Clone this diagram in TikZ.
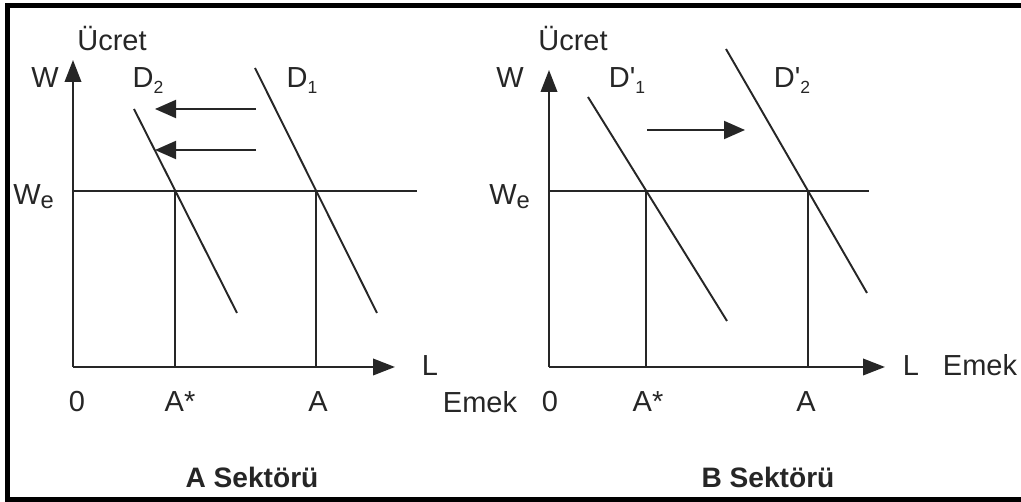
\documentclass[tikz,border=0pt]{standalone}
\usepackage{fontspec}
\setmainfont{Liberation Sans}
\usetikzlibrary{arrows.meta}
\tikzset{
  axisline/.style  ={-{Triangle[length=4.4mm, width=3.3mm]}, line width=1.2pt, draw=black!85},
  demand/.style    ={line width=1.1pt, draw=black!85},
  dropline/.style  ={line width=1.1pt, draw=black!85},
  shiftarrow/.style={-{Triangle[length=4.2mm, width=3.6mm]}, line width=1.1pt, draw=black!85},
  lbl/.style       ={font=\fontsize{16.5}{19}\selectfont, text=black!85, inner sep=0pt, anchor=base},
  sector/.style    ={font=\fontsize{16}{19}\selectfont\bfseries, text=black!85, inner sep=0pt, anchor=base},
  framebox/.style  ={line width=1mm, draw=black},
}
\newcommand{\wlow}{W\raisebox{-0.25ex}{\fontsize{13.5}{15}\selectfont e}}
\newcommand{\dsub}[1]{\raisebox{-0.35ex}{\fontsize{10}{12}\selectfont #1}}

\begin{document}
\begin{tikzpicture}[x=0.2mm, y=-0.2mm]
  \useasboundingbox (0,0) rectangle (1021,502);
  \draw[framebox] (1021,6) -- (7.5,6) -- (7.5,499.5) -- (1021,499.5);

  % A Sektoru
  \coordinate (oA)   at (73,367);
  \coordinate (yA)   at (73,60);
  \coordinate (xA)   at (395,367);
  \coordinate (weA)  at (73,191);
  \coordinate (weAe) at (417,191);
  \coordinate (d2a)  at (134,109);
  \coordinate (d2b)  at (237,313);
  \coordinate (d1a)  at (255,68);
  \coordinate (d1b)  at (377,313);
  \coordinate (pA2)  at (intersection of d2a--d2b and weA--weAe);
  \coordinate (pA1)  at (intersection of d1a--d1b and weA--weAe);
  \coordinate (fA2)  at (pA2 |- oA);
  \coordinate (fA1)  at (pA1 |- oA);
  \coordinate (s1a)  at (256,109);
  \coordinate (s1b)  at (155,109);
  \coordinate (s2a)  at (256,150);
  \coordinate (s2b)  at (155,150);

  \draw[axisline] (oA) -- (yA);
  \draw[axisline] (oA) -- (xA);
  \draw[dropline] (weA) -- (weAe);
  \draw[dropline] (pA2) -- (fA2);
  \draw[dropline] (pA1) -- (fA1);
  \draw[demand]   (d2a) -- (d2b);
  \draw[demand]   (d1a) -- (d1b);
  \draw[shiftarrow] (s1a) -- (s1b);
  \draw[shiftarrow] (s2a) -- (s2b);

  \node[lbl] (ucA)  at (112,51)  {Ücret};
  \node[lbl] (wA)   at (45,88)   {W};
  \node[lbl] (D2)   at (148,88)  {D\dsub{2}};
  \node[lbl] (D1)   at (302,88)  {D\dsub{1}};
  \node[lbl, anchor=base west] (weLA) at (13,205) {\wlow};
  \node[lbl] (zeroA) at (77,412)  {0};
  \node[lbl] (astA)  at (180,412) {A*};
  \node[lbl] (aA)    at (318,412) {A};
  \node[lbl] (lA)    at (430,376) {L};
  \node[lbl] (emA)   at (480,413) {Emek};
  \node[sector] (secA) at (252,488) {A Sektörü};

  % B Sektoru
  \coordinate (oB)   at (549,367);
  \coordinate (yB)   at (549,70);
  \coordinate (xB)   at (885,367);
  \coordinate (weB)  at (549,191);
  \coordinate (weBe) at (869,191);
  \coordinate (e1a)  at (588,97);
  \coordinate (e1b)  at (727,321);
  \coordinate (e2a)  at (726,49);
  \coordinate (e2b)  at (867,293);
  \coordinate (pB1)  at (intersection of e1a--e1b and weB--weBe);
  \coordinate (pB2)  at (intersection of e2a--e2b and weB--weBe);
  \coordinate (fB1)  at (pB1 |- oB);
  \coordinate (fB2)  at (pB2 |- oB);
  \coordinate (s3a)  at (647,130);
  \coordinate (s3b)  at (745,130);

  \draw[axisline] (oB) -- (yB);
  \draw[axisline] (oB) -- (xB);
  \draw[dropline] (weB) -- (weBe);
  \draw[dropline] (pB1) -- (fB1);
  \draw[dropline] (pB2) -- (fB2);
  \draw[demand]   (e1a) -- (e1b);
  \draw[demand]   (e2a) -- (e2b);
  \draw[shiftarrow] (s3a) -- (s3b);

  \node[lbl] (ucB)  at (573,51)  {Ücret};
  \node[lbl] (wB)   at (510,88)  {W};
  \node[lbl] (Dp1)  at (627,88)  {D\textquotesingle\dsub{1}};
  \node[lbl] (Dp2)  at (792,88)  {D\textquotesingle\dsub{2}};
  \node[lbl, anchor=base west] (weLB) at (489,205) {\wlow};
  \node[lbl] (zeroB) at (550,412) {0};
  \node[lbl] (astB)  at (648,412) {A*};
  \node[lbl] (aB)    at (806,412) {A};
  \node[lbl] (lB)    at (911,376) {L};
  \node[lbl] (emB)   at (980,376) {Emek};
  \node[sector] (secB) at (768,488) {B Sektörü};
\end{tikzpicture}
\end{document}
